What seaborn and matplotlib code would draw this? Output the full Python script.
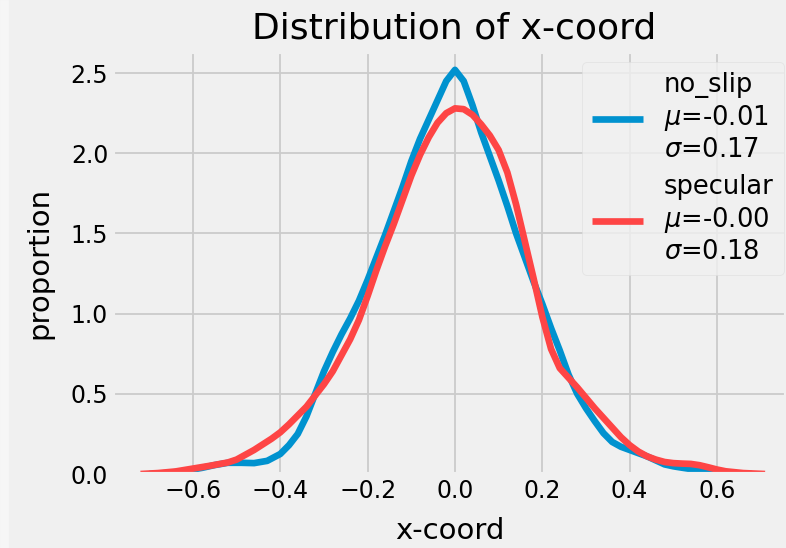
import numpy as np
import pandas as pd
import matplotlib
matplotlib.use("Agg")
import matplotlib.pyplot as plt
from matplotlib.patches import Rectangle
import seaborn as sns

plt.style.use('fivethirtyeight')

# density curves (KDE of x-coord)
no_slip_x = [-0.70, -0.66, -0.62, -0.58, -0.55, -0.52, -0.49, -0.46, -0.43, -0.40,
             -0.38, -0.36, -0.34, -0.32, -0.30, -0.28, -0.26, -0.24, -0.22, -0.20,
             -0.18, -0.16, -0.14, -0.12, -0.10, -0.08, -0.06, -0.04, -0.02, 0.00,
             0.02, 0.04, 0.06, 0.08, 0.10, 0.12, 0.14, 0.16, 0.18, 0.20,
             0.22, 0.24, 0.26, 0.28, 0.30, 0.32, 0.34, 0.36, 0.38, 0.40,
             0.42, 0.44, 0.46, 0.48, 0.50, 0.53, 0.56, 0.60, 0.64, 0.68]
no_slip_y = [0.0, 0.006, 0.018, 0.038, 0.056, 0.070, 0.070, 0.068, 0.082, 0.125,
             0.18, 0.25, 0.36, 0.50, 0.64, 0.76, 0.87, 0.97, 1.08, 1.21,
             1.35, 1.49, 1.64, 1.79, 1.95, 2.09, 2.21, 2.33, 2.45, 2.52,
             2.45, 2.30, 2.13, 1.98, 1.83, 1.67, 1.50, 1.35, 1.20, 1.06,
             0.91, 0.77, 0.62, 0.50, 0.41, 0.33, 0.255, 0.20, 0.17, 0.15,
             0.13, 0.11, 0.085, 0.06, 0.048, 0.035, 0.022, 0.010, 0.003, 0.0]

specular_x = [-0.72, -0.68, -0.64, -0.60, -0.56, -0.52, -0.50, -0.48, -0.46, -0.44,
              -0.42, -0.40, -0.38, -0.36, -0.34, -0.32, -0.30, -0.28, -0.26, -0.24,
              -0.22, -0.20, -0.18, -0.16, -0.14, -0.12, -0.10, -0.08, -0.06, -0.04,
              -0.02, 0.00, 0.02, 0.04, 0.06, 0.08, 0.10, 0.12, 0.14, 0.16,
              0.18, 0.20, 0.22, 0.24, 0.26, 0.28, 0.30, 0.32, 0.34, 0.36,
              0.38, 0.40, 0.42, 0.44, 0.46, 0.48, 0.50, 0.52, 0.54, 0.56,
              0.58, 0.60, 0.62, 0.66, 0.71]
specular_y = [0.0, 0.006, 0.016, 0.034, 0.052, 0.072, 0.09, 0.12, 0.15, 0.185,
              0.22, 0.26, 0.31, 0.365, 0.42, 0.49, 0.56, 0.64, 0.74, 0.84,
              0.96, 1.11, 1.27, 1.42, 1.56, 1.71, 1.86, 1.99, 2.10, 2.19,
              2.25, 2.28, 2.275, 2.24, 2.18, 2.11, 2.02, 1.88, 1.68, 1.45,
              1.22, 0.98, 0.78, 0.66, 0.60, 0.54, 0.475, 0.41, 0.35, 0.29,
              0.23, 0.18, 0.14, 0.11, 0.09, 0.075, 0.068, 0.065, 0.063, 0.055,
              0.042, 0.028, 0.017, 0.006, 0.0]

labels = ['no_slip\n$\\mu$=-0.01\n$\\sigma$=0.17',
          'specular\n$\\mu$=-0.00\n$\\sigma$=0.18']
colors = ['#0092cf', '#fe4545']

fig = plt.figure(figsize=(7.86, 5.48), dpi=100)
ax = fig.add_axes([0.1438, 0.135, 0.8562, 0.770])

sns.lineplot(x=no_slip_x, y=no_slip_y, ax=ax, color=colors[0], label=labels[0], lw=4.8)
sns.lineplot(x=specular_x, y=specular_y, ax=ax, color=colors[1], label=labels[1], lw=4.8)

ax.set_xlim(-0.783, 0.758)
ax.set_ylim(0, 2.631)
ax.set_xticks([-0.6, -0.4, -0.2, 0.0, 0.2, 0.4, 0.6])
ax.set_yticks([0.0, 0.5, 1.0, 1.5, 2.0, 2.5])
ax.tick_params(labelsize=17)
ax.grid(True, color='#cbcbcb', lw=1.3)

ax.set_title('Distribution of x-coord', x=0.507, fontsize=26, pad=10)
ax.set_xlabel('x-coord', fontsize=21, labelpad=10)
ax.set_ylabel('proportion', fontsize=21, labelpad=12)
leg = ax.legend(loc='upper right', bbox_to_anchor=(0.997, 0.976), borderaxespad=0,
                fontsize=18.5, handlelength=2.0, labelspacing=0.45)
leg.get_frame().set_edgecolor('#dedede')

# light strip at the left edge of the screenshot
fig.add_artist(Rectangle((0, 0), 8 / 786, 1, transform=fig.transFigure,
                         color='#f6f6f6', zorder=-1))

fig.savefig('out.png', dpi=100, facecolor='#f0f0f0')
